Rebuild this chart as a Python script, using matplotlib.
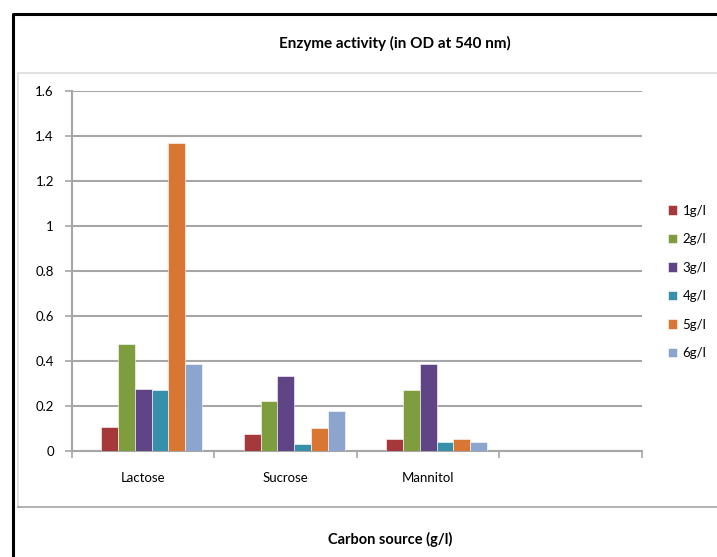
"""
Enzyme activity (OD at 540 nm) for different carbon sources and concentrations.
"""

import matplotlib.pyplot as plt
import numpy as np
from matplotlib.lines import Line2D

plt.rcParams['font.family'] = ['Lato', 'DejaVu Sans']

# Data
# ----------------------------------------------------------------------------

categories = ['Lactose', 'Sucrose', 'Mannitol', '']
series = ['1g/l', '2g/l', '3g/l', '4g/l', '5g/l', '6g/l']
values = {
    '1g/l': [0.108, 0.074, 0.053],
    '2g/l': [0.474, 0.222, 0.270],
    '3g/l': [0.274, 0.335, 0.386],
    '4g/l': [0.270, 0.031, 0.039],
    '5g/l': [1.370, 0.102, 0.053],
    '6g/l': [0.385, 0.178, 0.039],
}
colors = ['#A4383A', '#7E9D3E', '#5F4585', '#3690AA', '#D97634', '#8BA5CF']
yticks = [0, 0.2, 0.4, 0.6, 0.8, 1, 1.2, 1.4, 1.6]

# Plot
# ----------------------------------------------------------------------------

fig = plt.figure(figsize=(7.17, 5.57), dpi=100)
ax = fig.add_axes([0.1004, 0.1903, 0.795, 0.6463])

w = 0.118
x = np.arange(len(values['1g/l']))
for i, (name, c) in enumerate(zip(series, colors)):
    ax.bar(x + (i - 2) * w, values[name], width=w, color=c,
           edgecolor='white', linewidth=0.4, label=name, zorder=3)

ax.set_xlim(-0.5, 3.5)
ax.set_ylim(0, 1.6)
ax.set_yticks(yticks)
ax.set_yticklabels([f'{v:g}' for v in yticks], fontsize=9.5)
ax.yaxis.grid(True, color='#A6A6A6', linewidth=1.5, zorder=0)

ax.set_xticks(np.arange(len(categories)))
ax.set_xticklabels(categories, fontsize=9.5)
ax.tick_params(axis='x', which='major', length=0, pad=15)
ax.set_xticks(np.arange(len(categories) + 1) - 0.5, minor=True)
ax.tick_params(axis='x', which='minor', length=5, color='#A6A6A6', width=1.2)
ax.tick_params(axis='y', length=5, color='#A6A6A6', width=1.2, pad=8)

for s in ['top', 'right']:
    ax.spines[s].set_visible(False)
for s in ['left', 'bottom']:
    ax.spines[s].set_color('#A6A6A6')
    ax.spines[s].set_linewidth(1.5)

ax.legend(loc='center left', bbox_to_anchor=(1.025, 0.47), frameon=False,
          fontsize=9.5, handlelength=0.7, handleheight=0.7,
          handletextpad=0.4, labelspacing=1.25)

fig.text(0.551, 0.922, 'Enzyme activity (in OD at 540 nm)',
         ha='center', va='center', fontsize=11, fontweight='bold')
fig.text(0.544, 0.031, 'Carbon source (g/l)',
         ha='center', va='center', fontsize=10.5, fontweight='bold')

# Frames around the chart
fig.add_artist(Line2D([0.0181, 0.0181, 1.0], [0.0, 0.975, 0.975],
                      color='black', linewidth=2.2))
fig.add_artist(Line2D([1.0, 0.025, 0.025], [0.869, 0.869, 0.090],
                      color='#DDDDDD', linewidth=1.3))
fig.add_artist(Line2D([0.025, 1.0], [0.090, 0.090],
                      color='#AAAAAA', linewidth=1.3))

fig.savefig('out.png', dpi=100)
